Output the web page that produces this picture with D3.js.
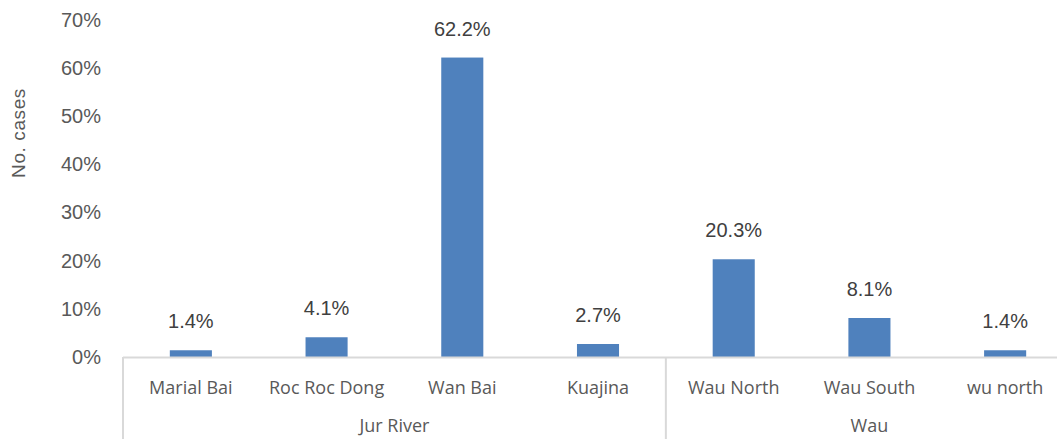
<!DOCTYPE html>
<html>
<head>
<meta charset="utf-8">
<script src="https://cdn.jsdelivr.net/npm/d3@7"></script>
<style>
  body { margin: 0; background: #fff; }
  svg { display: block; }
</style>
</head>
<body>
<div id="chart"></div>
<script>
// data
const districts = ['Marial Bai', 'Roc Roc Dong', 'Wan Bai', 'Kuajina', 'Wau North', 'Wau South', 'wu north'];
const counties = ['Jur River', 'Jur River', 'Jur River', 'Jur River', 'Wau', 'Wau', 'Wau'];
const shares = [1.4, 4.1, 62.2, 2.7, 20.3, 8.1, 1.4];
const yTicks = [0, 10, 20, 30, 40, 50, 60, 70];

const W = 1057, H = 439;
const margin = { top: 20, right: -16, bottom: 82, left: 123 };
const width = W - margin.left - margin.right;
const height = H - margin.top - margin.bottom;

const svg = d3.select('#chart').append('svg')
  .attr('width', W)
  .attr('height', H);

const group = svg.append('g')
  .attr('transform', 'translate(' + margin.left + ',' + margin.top + ')');

const xScale = d3.scaleBand().domain(districts).range([0, width]).paddingInner(0.69).paddingOuter(0.345);
const yScale = d3.scaleLinear().domain([0, 70]).range([height, 0]);

// y axis labels (no axis line)
const yAxis = d3.axisLeft(yScale).tickValues(yTicks).tickFormat(d => d + '%').tickSize(0).tickPadding(22);
const yAxisGroup = group.append('g').call(yAxis);
yAxisGroup.select('.domain').remove();
yAxisGroup.selectAll('text')
  .style('font-family', 'Liberation Sans, Arial, sans-serif')
  .style('font-size', '20px')
  .attr('fill', '#595959');

svg.append('text')
  .text('No. cases')
  .attr('transform', 'translate(25,' + (margin.top + 113) + ') rotate(-90)')
  .attr('text-anchor', 'middle')
  .style('font-family', 'Liberation Sans, Arial, sans-serif')
  .style('font-size', '19px')
  .style('letter-spacing', '0.6px')
  .attr('fill', '#595959');

// bars
group.selectAll('rect.bar').data(shares)
  .enter().append('rect')
  .attr('class', 'bar')
  .attr('x', (d, i) => xScale(districts[i]))
  .attr('y', d => yScale(d))
  .attr('width', xScale.bandwidth())
  .attr('height', d => height - yScale(d))
  .attr('fill', '#4f81bd');

group.selectAll('text.val').data(shares)
  .enter().append('text')
  .attr('class', 'val')
  .text(d => d.toFixed(1) + '%')
  .attr('x', (d, i) => xScale(districts[i]) + xScale.bandwidth() / 2)
  .attr('y', d => yScale(d) - 22)
  .attr('text-anchor', 'middle')
  .style('font-family', 'Liberation Sans, Arial, sans-serif')
  .style('font-size', '20px')
  .attr('fill', '#404040');

// category axis: baseline and separators
const step = xScale.step();
const lineColor = '#d9d9d9';
group.append('line')
  .attr('x1', 0).attr('x2', width)
  .attr('y1', height + 0.5).attr('y2', height + 0.5)
  .attr('stroke', lineColor).attr('stroke-width', 2);

// county groups
const groups = Array.from(d3.group(districts.map((d, i) => ({ d, c: counties[i], i })), e => e.c),
  ([name, items]) => ({ name, start: items[0].i, end: items[items.length - 1].i + 1 }));

const bounds = [0].concat(groups.map(g => g.end));
group.selectAll('line.sep').data(bounds)
  .enter().append('line')
  .attr('class', 'sep')
  .attr('x1', d => d * step).attr('x2', d => d * step)
  .attr('y1', height).attr('y2', H - margin.top)
  .attr('stroke', lineColor).attr('stroke-width', 2);

group.selectAll('text.cat').data(districts)
  .enter().append('text')
  .attr('class', 'cat')
  .text(d => d)
  .attr('x', d => xScale(d) + xScale.bandwidth() / 2)
  .attr('y', height + 37)
  .attr('text-anchor', 'middle')
  .style('font-family', 'Open Sans, sans-serif')
  .style('font-size', '18px')
  .attr('fill', '#595959');

group.selectAll('text.grp').data(groups)
  .enter().append('text')
  .attr('class', 'grp')
  .text(d => d.name)
  .attr('x', d => (d.start + d.end) / 2 * step)
  .attr('y', height + 75)
  .attr('text-anchor', 'middle')
  .style('font-family', 'Open Sans, sans-serif')
  .style('font-size', '18px')
  .attr('fill', '#595959');
</script>
</body>
</html>
